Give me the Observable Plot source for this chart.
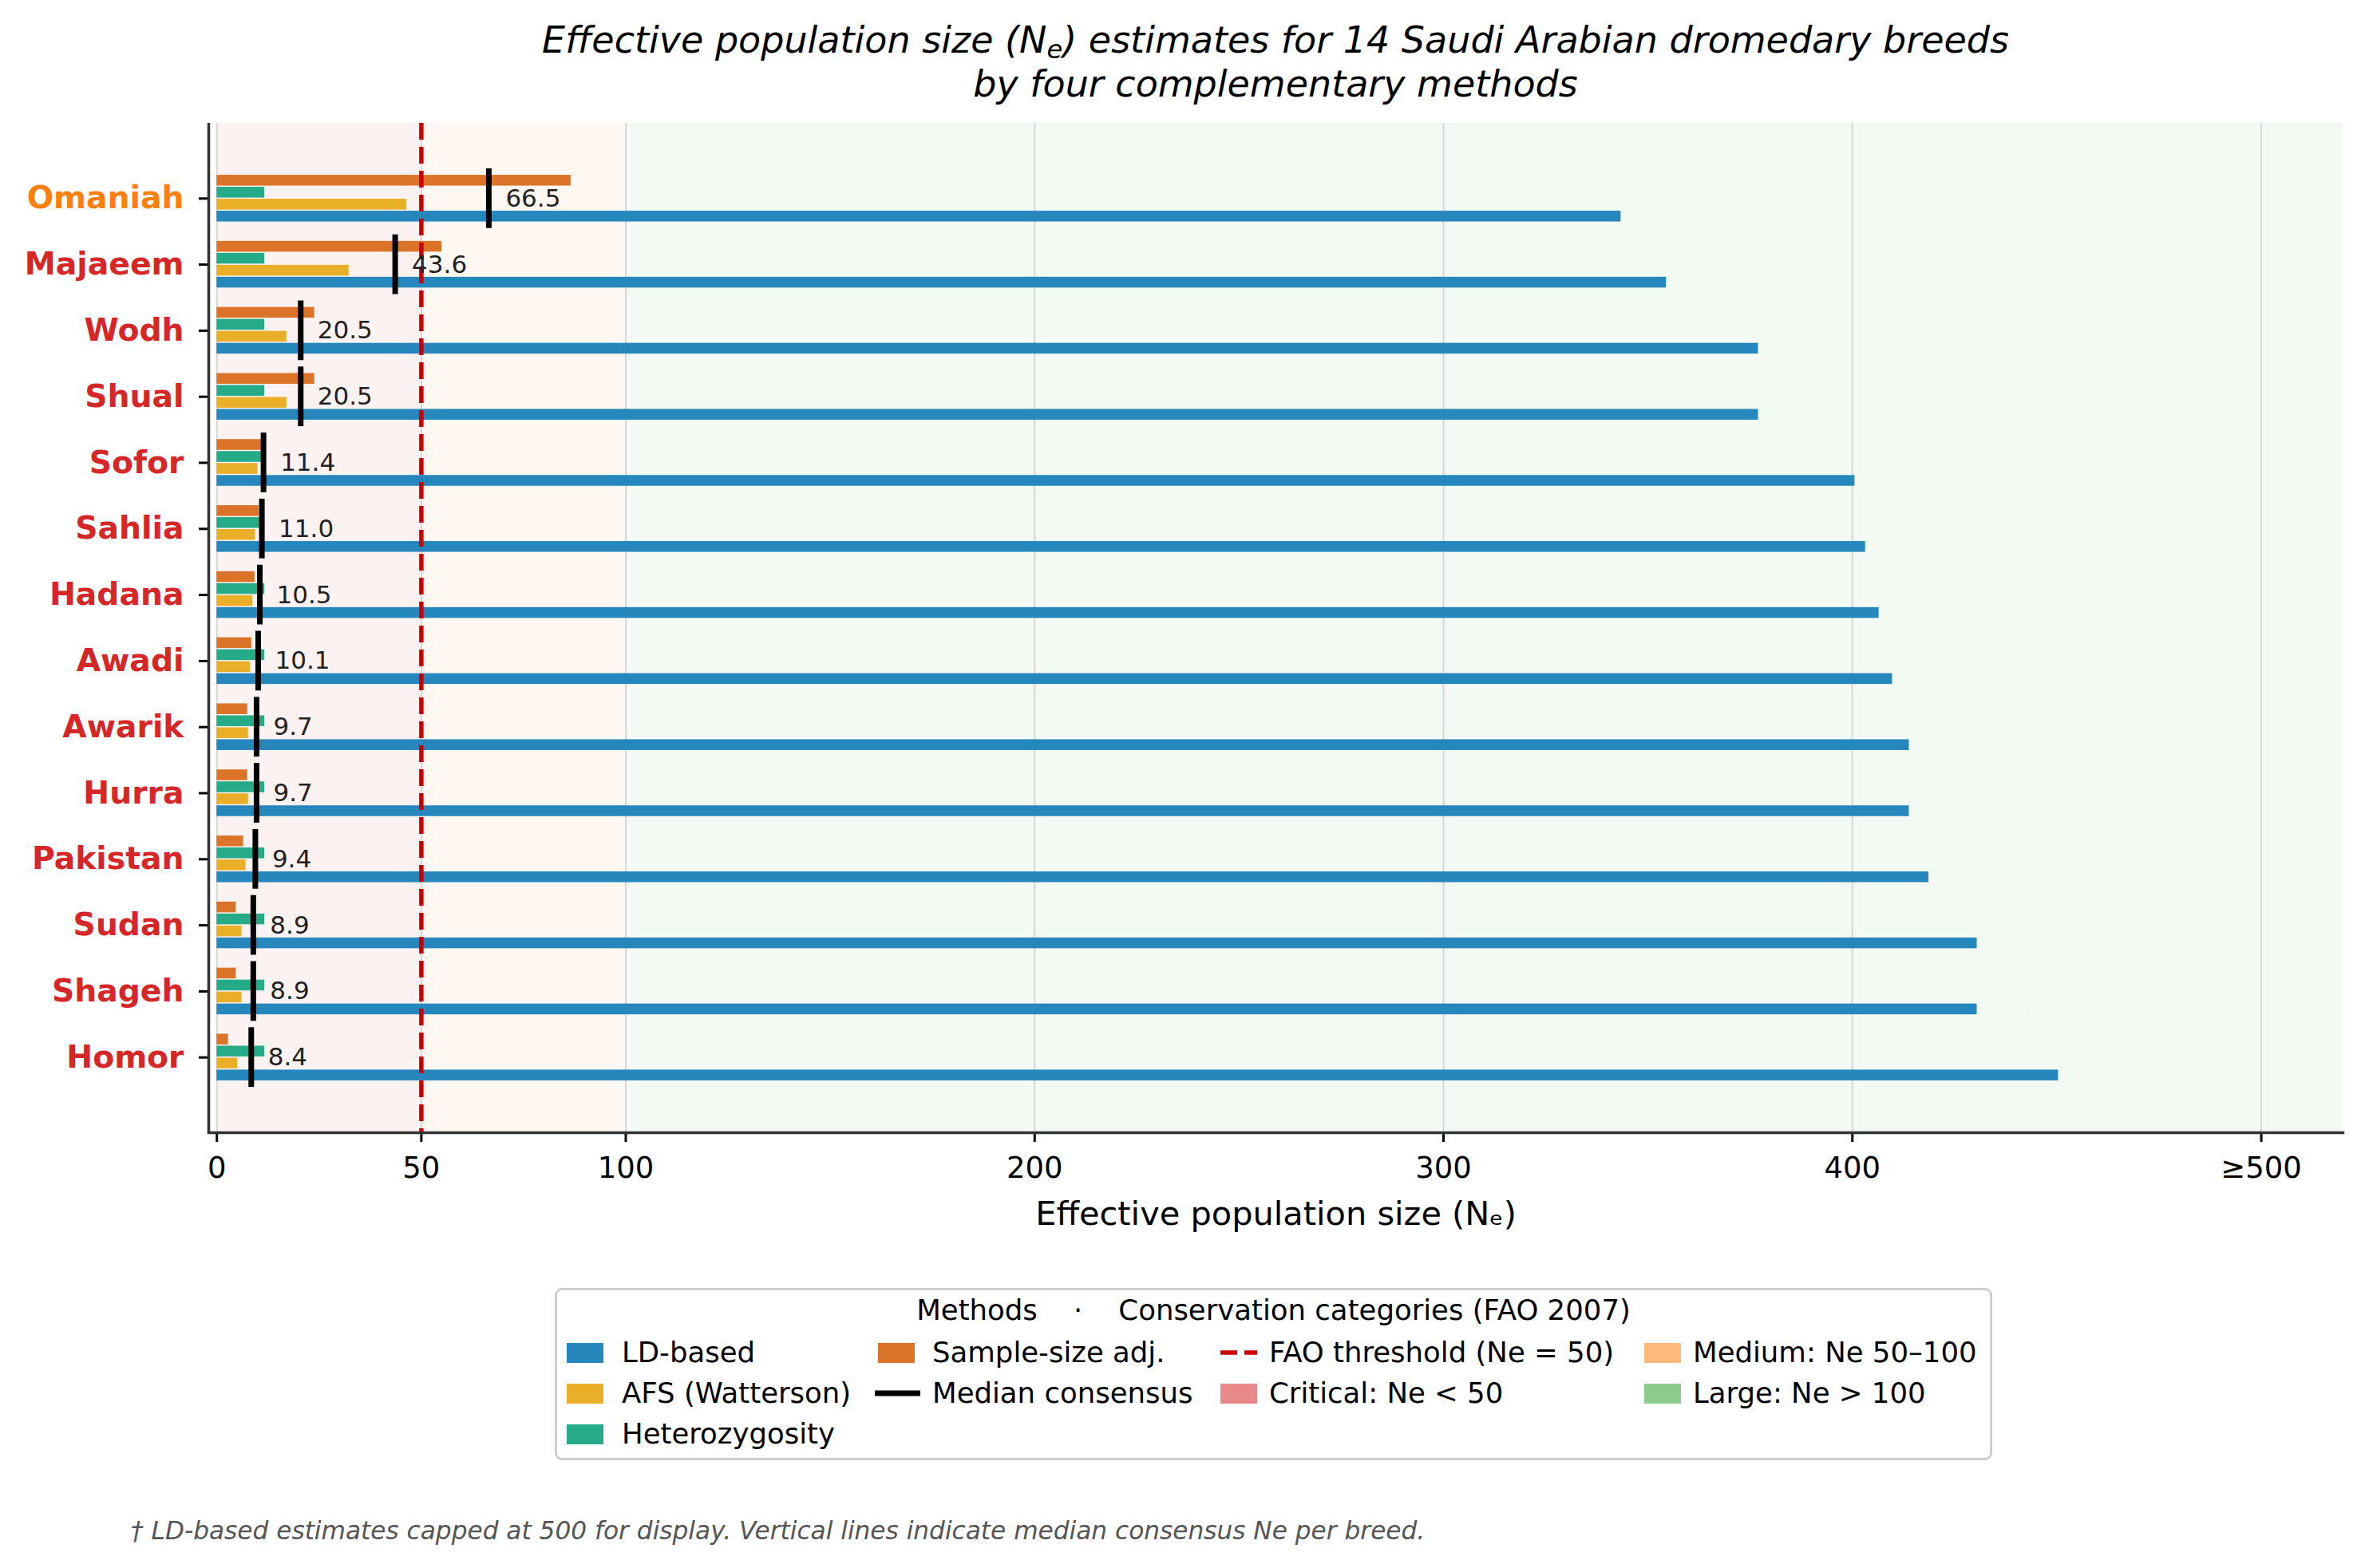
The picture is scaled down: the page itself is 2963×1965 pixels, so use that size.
<!DOCTYPE html>
<html>
<head>
<meta charset="utf-8">
<script src="https://cdn.jsdelivr.net/npm/d3@7"></script>
<script src="https://cdn.jsdelivr.net/npm/@observablehq/plot@0.6"></script>
<style>
  body { margin: 0; background: #fff; font-family: "DejaVu Sans", sans-serif; }
  #wrap { position: relative; width: 2963px; height: 1965px; background: #fff; }
  #title { position: absolute; left: 261px; width: 2674px; top: 23px; text-align: center;
           font-style: italic; font-size: 46px; line-height: 55px; color: #000; }
  #title sub { font-size: 0.7em; line-height: 0; vertical-align: -0.22em; }
  #chart { position: absolute; left: 0; top: 134px; }
  #legend { position: absolute; left: 695px; top: 1614px; width: 1801px; height: 216px;
            box-sizing: border-box; border: 3px solid #cfcfcf; border-radius: 9px; background: #fff; }
  .lg { position: absolute; font-size: 35.5px; line-height: 40px; height: 40px; white-space: pre; color: #000; }
  .sw { position: absolute; }
  #foot { position: absolute; left: 164px; top: 1900px; font-size: 31.2px; line-height: 36px;
          font-style: italic; color: #555; white-space: pre; }
</style>
</head>
<body>
<div id="wrap">
  <div id="title">Effective population size (N<sub>e</sub>) estimates for 14 Saudi Arabian dromedary breeds<br>by four complementary methods</div>
  <div id="chart"></div>
  <div id="legend"></div>
  <div id="foot">† LD-based estimates capped at 500 for display. Vertical lines indicate median consensus Ne per breed.</div>
</div>
<script>
// ---------------- data ----------------
const breeds = ["Omaniah", "Majaeem", "Wodh", "Shual", "Sofor", "Sahlia", "Hadana",
                "Awadi", "Awarik", "Hurra", "Pakistan", "Sudan", "Shageh", "Homor"];
const ldBased        = [343.4, 354.5, 377.0, 377.0, 400.6, 403.2, 406.5, 409.8, 413.9, 413.9, 418.7, 430.5, 430.5, 450.4];
const afsWatterson   = [46.4, 32.3, 17.1, 17.1, 10.0, 9.4, 8.8, 8.2, 7.7, 7.7, 7.1, 6.1, 6.1, 5.1];
const heterozygosity = [11.7, 11.7, 11.7, 11.7, 11.7, 11.7, 11.7, 11.7, 11.7, 11.7, 11.7, 11.7, 11.7, 11.7];
const sampleSizeAdj  = [86.6, 55.0, 23.9, 23.9, 11.1, 10.3, 9.3, 8.5, 7.5, 7.5, 6.5, 4.7, 4.7, 2.8];
const medianConsensus = [66.5, 43.6, 20.5, 20.5, 11.4, 11.0, 10.5, 10.1, 9.7, 9.7, 9.4, 8.9, 8.9, 8.4];
const xTicks = [0, 50, 100, 200, 300, 400, 500];
const xTickLabels = ["0", "50", "100", "200", "300", "400", "≥500"];
const faoThreshold = [50];
const categoryNames = ["Critical: Ne < 50", "Medium: Ne 50–100", "Large: Ne > 100"];
const categoryLow  = [0, 50, 100];
const categoryHigh = [50, 100, 520];
const methodNames = ["LD-based", "AFS (Watterson)", "Heterozygosity", "Sample-size adj."];

// ---------------- styles ----------------
const methodColors = {"LD-based": "#2687BD", "AFS (Watterson)": "#E9AF28",
                      "Heterozygosity": "#26AB88", "Sample-size adj.": "#DB7328"};
const catBase = ["#d62728", "#ff7f0e", "#2ca02c"];
const faoRed = "#CC0000";

const rows = breeds.map((b, i) => ({
  breed: b, ld: ldBased[i], afs: afsWatterson[i], het: heterozygosity[i],
  samp: sampleSizeAdj[i], median: medianConsensus[i]
}));
const cats = categoryNames.map((n, i) => ({name: n, lo: categoryLow[i], hi: categoryHigh[i], color: catBase[i]}));
const catColorOf = v => v < 50 ? catBase[0] : (v <= 100 ? catBase[1] : catBase[2]);

// layout
const W = 2963, H = 1436, mT = 20, mB = 151, mL = 261, mR = 28;
const padOuter = 0.639;
const step = (H - mT - mB) / (breeds.length + 2 * padOuter);
const pitch = 15, barH = 13.5;
function ins(k) {
  const top = step / 2 + (k - 1.5) * pitch - barH / 2;
  return {insetTop: top, insetBottom: step - top - barH};
}

const chart = Plot.plot({
  width: W, height: H,
  marginTop: mT, marginBottom: mB, marginLeft: mL, marginRight: mR,
  x: {domain: [-2, 520]},
  y: {domain: breeds, paddingInner: 0, paddingOuter: padOuter, round: false},
  style: {fontFamily: "DejaVu Sans", background: "white", overflow: "visible"},
  marks: [
    Plot.rect(cats, {x1: "lo", x2: "hi", fill: d => d.color, fillOpacity: 0.06}),
    Plot.gridX(xTicks, {stroke: "#d6d6d6", strokeOpacity: 1, strokeWidth: 2}),
    Plot.barX(rows, {y: "breed", x: "samp", fill: methodColors["Sample-size adj."], ...ins(0)}),
    Plot.barX(rows, {y: "breed", x: "het", fill: methodColors["Heterozygosity"], ...ins(1)}),
    Plot.barX(rows, {y: "breed", x: "afs", fill: methodColors["AFS (Watterson)"], ...ins(2)}),
    Plot.barX(rows, {y: "breed", x: "ld", fill: methodColors["LD-based"], ...ins(3)}),
    Plot.ruleX(faoThreshold, {stroke: faoRed, strokeWidth: 5.5, strokeDasharray: "21,9"}),
    Plot.tickX(rows, {x: "median", y: "breed", stroke: "black", strokeWidth: 7, insetTop: 4, insetBottom: 4}),
    Plot.text(rows, {x: "median", y: "breed", text: d => d.median.toFixed(1), dx: 21,
                     textAnchor: "start", fontSize: 31, fill: "#222"}),
    Plot.text(rows, {y: "breed", text: "breed", frameAnchor: "left", textAnchor: "end", dx: -31,
                     fontSize: 39.3, fontWeight: "bold", fill: d => catColorOf(d.median)}),
    Plot.axisY({tickSize: 12, tickFormat: () => "", stroke: "black", strokeWidth: 3, label: null}),
    Plot.axisX({ticks: xTicks, tickFormat: d => xTickLabels[xTicks.indexOf(d)], tickSize: 12,
                tickPadding: 18, fontSize: 37, stroke: "black", strokeWidth: 3, label: null}),
    Plot.ruleX([-2], {stroke: "#333", strokeWidth: 3.5}),
    Plot.frame({anchor: "bottom", stroke: "#333", strokeWidth: 3.5}),
    Plot.text(["Effective population size (Nₑ)"], {text: d => d, frameAnchor: "bottom", lineAnchor: "middle",
                     dy: 102, fontSize: 41.5, fill: "black"})
  ]
});
document.getElementById("chart").appendChild(chart);

// ---------------- legend ----------------
const wrap = document.getElementById("wrap");
function addText(txt, x, cy, extra) {
  const d = document.createElement("div");
  d.className = "lg"; d.textContent = txt;
  d.style.left = x + "px"; d.style.top = (cy - 20) + "px";
  if (extra) Object.assign(d.style, extra);
  wrap.appendChild(d);
}
function addSwatch(x, cy, color) {
  const d = document.createElement("div");
  d.className = "sw";
  Object.assign(d.style, {left: x + "px", top: (cy - 12.5) + "px", width: "46px", height: "25px", background: color});
  wrap.appendChild(d);
}
function addLine(x, cy, color, w, dash) {
  const ns = "http://www.w3.org/2000/svg";
  const s = document.createElementNS(ns, "svg");
  s.setAttribute("width", 58); s.setAttribute("height", 20);
  Object.assign(s.style, {position: "absolute", left: x + "px", top: (cy - 10) + "px"});
  const l = document.createElementNS(ns, "line");
  l.setAttribute("x1", 0); l.setAttribute("x2", dash ? 46 : 57);
  l.setAttribute("y1", 10); l.setAttribute("y2", 10);
  l.setAttribute("stroke", color); l.setAttribute("stroke-width", w);
  if (dash) l.setAttribute("stroke-dasharray", dash);
  s.appendChild(l); wrap.appendChild(s);
}
// title
const lt = document.createElement("div");
lt.className = "lg"; lt.textContent = "Methods    ·    Conservation categories (FAO 2007)";
Object.assign(lt.style, {left: "695px", width: "1801px", textAlign: "center", top: (1642 - 20) + "px"});
wrap.appendChild(lt);
const rowsY = [1695, 1746, 1797];
const colSw = [710, 1100, 1529, 2060];
const colTx = [779, 1168, 1590, 2121];
// column 1: LD, AFS, Het
[methodNames[0], methodNames[1], methodNames[2]].forEach((m, r) => {
  addSwatch(colSw[0], rowsY[r], methodColors[m]); addText(m, colTx[0], rowsY[r]);
});
// column 2: Sample-size adj., Median consensus
addSwatch(colSw[1], rowsY[0], methodColors[methodNames[3]]); addText(methodNames[3], colTx[1], rowsY[0]);
addLine(colSw[1] - 4, rowsY[1], "black", 7); addText("Median consensus", colTx[1], rowsY[1]);
// column 3: FAO threshold, Critical
addLine(colSw[2], rowsY[0], faoRed, 5.5, "21,9"); addText("FAO threshold (Ne = 50)", colTx[2], rowsY[0]);
addSwatch(colSw[2], rowsY[1], d3.color(catBase[0]).copy({opacity: 0.55}).formatRgb()); addText(categoryNames[0], colTx[2], rowsY[1]);
// column 4: Medium, Large
addSwatch(colSw[3], rowsY[0], d3.color(catBase[1]).copy({opacity: 0.55}).formatRgb()); addText(categoryNames[1], colTx[3], rowsY[0]);
addSwatch(colSw[3], rowsY[1], d3.color(catBase[2]).copy({opacity: 0.55}).formatRgb()); addText(categoryNames[2], colTx[3], rowsY[1]);
</script>
</body>
</html>
